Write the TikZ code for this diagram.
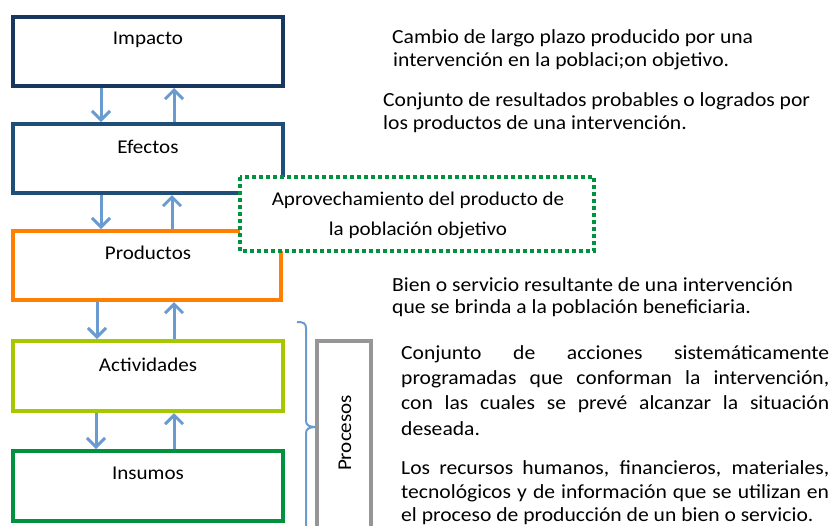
\documentclass[tikz,border=0pt]{standalone}
\usepackage{fontspec}
\setmainfont{Carlito}[FakeStretch=1.08]
\usetikzlibrary{arrows.meta}
\definecolor{navyA}{RGB}{23,55,94}
\definecolor{navyB}{RGB}{31,78,121}
\definecolor{orangeP}{RGB}{255,128,0}
\definecolor{limeA}{RGB}{166,200,0}
\definecolor{greenI}{RGB}{0,146,63}
\definecolor{arrowblue}{RGB}{106,155,208}
\definecolor{grayP}{RGB}{150,150,150}
\tikzset{
  x=1pt, y=-1pt,
  level/.style={draw, line width=4pt, fill=white},
  lbl/.style={font=\fontsize{19.5}{22}\selectfont, inner sep=0pt},
  desc/.style={font=\fontsize{20}{23}\selectfont, inner sep=0pt, anchor=west},
  flow/.style={draw=arrowblue, line width=3pt, -{Straight Barb[length=9pt,width=18pt,line width=3pt]}},
}
\begin{document}
\begin{tikzpicture}
\useasboundingbox (0,0) rectangle (832,525);
% level boxes
\draw[level, draw=navyA] (13,17) rectangle (283,86);
\draw[level, draw=navyB] (13,124) rectangle (283,193);
\draw[level, draw=orangeP] (13,231) rectangle (281,300);
\draw[level, draw=limeA] (13,341) rectangle (283,411);
\draw[level, draw=greenI] (13,451) rectangle (283,521);
\node[lbl] (impacto) at (148,40) {Impacto};
\node[lbl] (efectos) at (148,147) {Efectos};
\node[lbl] (productos) at (148,253) {Productos};
\node[lbl] (actividades) at (148,365) {Actividades};
\node[lbl] (insumos) at (148,473) {Insumos};
% anchor coordinates on box edges
\coordinate (i-b1) at (101,88); \coordinate (e-t1) at (101,122);
\coordinate (i-b2) at (174,88); \coordinate (e-t2) at (174,122);
\coordinate (e-b1) at (101,195); \coordinate (p-t1) at (101,229);
\coordinate (e-b2) at (172,195); \coordinate (p-t2) at (172,229);
\coordinate (p-b1) at (97,302); \coordinate (a-t1) at (97,339);
\coordinate (p-b2) at (174,302); \coordinate (a-t2) at (174,339);
\coordinate (a-b1) at (96,413); \coordinate (n-t1) at (96,449);
\coordinate (a-b2) at (174,413); \coordinate (n-t2) at (174,449);
\draw[flow] (i-b1) -- (e-t1);
\draw[flow] (e-t2) -- (i-b2);
\draw[flow] (e-b1) -- (p-t1);
\draw[flow] (p-t2) -- (e-b2);
\draw[flow] (p-b1) -- (a-t1);
\draw[flow] (a-t2) -- (p-b2);
\draw[flow] (a-b1) -- (n-t1);
\draw[flow] (n-t2) -- (a-b2);
% dotted box
\draw[draw=greenI, fill=white, line width=4pt, dash pattern=on 4pt off 3pt] (240,177) rectangle (594,251);
\node[lbl, align=center, font=\fontsize{19.5}{30}\selectfont] (aprov) at (418,215) {Aprovechamiento del producto de\\la población objetivo};
% brace
\draw[arrowblue, line width=2pt] (297,322) .. controls (303,322) and (306,323) .. (306,328) -- (306,421) .. controls (306,425) and (309,427) .. (316,427);
\draw[arrowblue, line width=2pt] (316,427) .. controls (309,427) and (306,429) .. (306,433) -- (306,530);
% Procesos box
\draw[draw=grayP, line width=4pt] (371,530) -- (371,341) -- (317,341) -- (317,530);
\node[lbl, rotate=90] (procesos) at (345,433) {Procesos};
% descriptions
\node[desc] (d1a) at (392,38) {Cambio de largo plazo producido por una};
\node[desc] (d1b) at (393,61) {intervención en la poblaci;on objetivo.};
\node[desc] (d2a) at (383,101) {Conjunto de resultados probables o logrados por};
\node[desc] (d2b) at (383,124) {los productos de una intervención.};
\node[desc] (d3a) at (392,285) {Bien o servicio resultante de una intervención};
\node[desc] (d3b) at (392,308) {que se brinda a la población beneficiaria.};
\node[desc] (d4a) at (401,354) {\makebox[428pt][s]{Conjunto de acciones sistemáticamente}};
\node[desc] (d4b) at (401,379) {\makebox[428pt][s]{programadas que conforman la intervención,}};
\node[desc] (d4c) at (401,404) {\makebox[428pt][s]{con las cuales se prevé alcanzar la situación}};
\node[desc] (d4d) at (401,429) {deseada.};
\node[desc] (d5a) at (401,469) {\makebox[428pt][s]{Los recursos humanos, financieros, materiales,}};
\node[desc] (d5b) at (401,493) {\makebox[428pt][s]{tecnológicos y de información que se utilizan en}};
\node[desc] (d5c) at (401,516) {el proceso de producción de un bien o servicio.};
\end{tikzpicture}
\end{document}
